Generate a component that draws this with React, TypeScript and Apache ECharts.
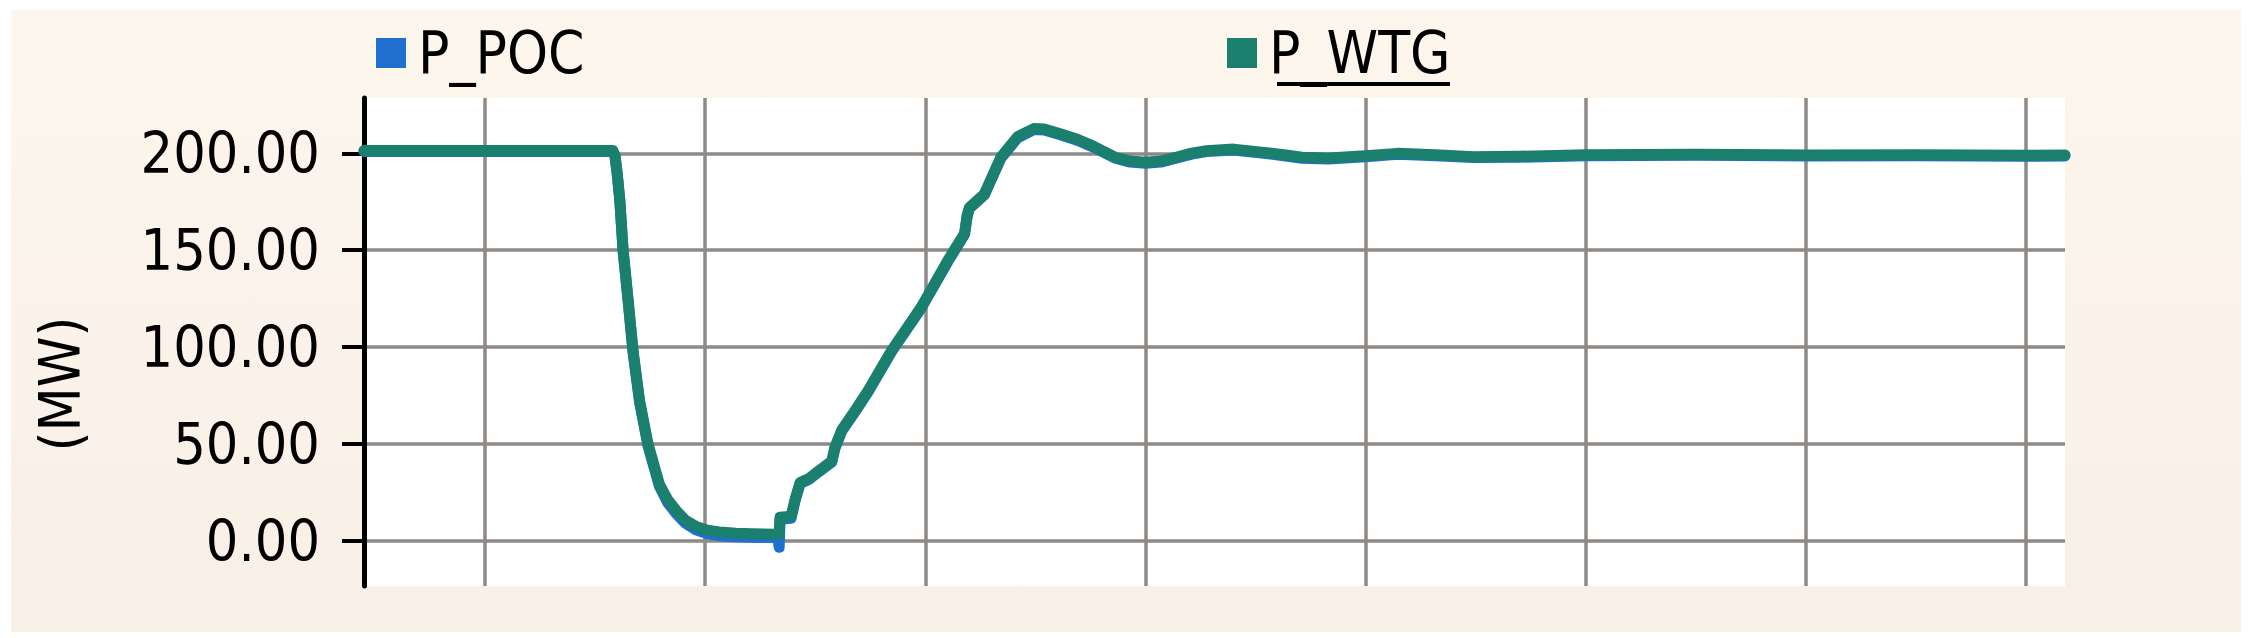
import React, { useEffect, useRef } from "react";
import * as echarts from "echarts";

// time axis (grid lines at whole units 1..8)
const time = [
  0.45, 1.0, 1.58, 1.59, 1.6, 1.612, 1.627, 1.65, 1.672, 1.702, 1.74, 1.792, 1.83, 1.868, 1.91, 1.958,
  2.01, 2.063, 2.14, 2.214, 2.33, 2.336, 2.34, 2.39, 2.408, 2.431, 2.471, 2.516, 2.575, 2.589, 2.62,
  2.68, 2.741, 2.846, 2.982, 3.103, 3.178, 3.19, 3.2, 3.268, 3.343, 3.419, 3.493, 3.54, 3.62, 3.69,
  3.758, 3.862, 3.93, 4.001, 4.07, 4.139, 4.21, 4.278, 4.399, 4.538, 4.62, 4.711, 4.832, 5.0, 5.144,
  5.317, 5.49, 5.7, 6.0, 6.5, 7.0, 7.5, 8.0, 8.177,
];

const pPoc = [
  201.0, 201.0, 201.0, 198.5, 189.5, 175.5, 149.5, 123.5, 97.5, 71.5, 49.0, 28.0, 19.5, 14.0, 9.0, 5.5,
  3.5, 2.5, 2.0, 1.7, 1.5, -3.5, 11.0, 11.5, 20.5, 29.5, 31.5, 35.5, 40.5, 47.5, 56.5,
  66.5, 77.0, 97.5, 120.2, 144.3, 158.1, 167.5, 171.5, 178.5, 197.5, 208.0, 212.3, 212.1, 209.4, 206.8,
  203.5, 197.5, 195.5, 194.9, 195.5, 197.5, 199.6, 200.9, 201.7, 200.0, 198.9, 197.5, 197.1, 198.3, 199.5,
  198.8, 197.8, 198.0, 198.8, 199.0, 198.7, 198.8, 198.5, 198.7,
];

const pWtg = [
  201.5, 201.5, 201.5, 199.0, 190.0, 176.0, 150.0, 124.0, 98.0, 72.0, 50.0, 29.0, 21.0, 15.5, 10.5, 7.2,
  5.3, 4.4, 3.8, 3.5, 3.2, 3.2, 12.0, 12.5, 21.0, 30.0, 32.0, 36.0, 41.0, 48.0, 57.0,
  67.0, 77.6, 98.0, 120.7, 144.8, 158.6, 168.0, 172.0, 179.0, 198.0, 208.6, 212.8, 212.6, 209.9, 207.3,
  204.0, 198.0, 196.0, 195.4, 196.0, 198.0, 200.1, 201.4, 202.2, 200.5, 199.4, 198.0, 197.6, 198.8, 200.0,
  199.3, 198.3, 198.5, 199.3, 199.5, 199.2, 199.3, 199.0, 199.2,
];

const seriesNames = ["P_POC", "P_WTG"];
const seriesColors = ["#1F6FD1", "#1A7F6D"];
const yTicks = [0, 50, 100, 150, 200];
const xGridTicks = [1, 2, 3, 4, 5, 6, 7, 8];
const yAxisName = "(MW)";

const FONT = "'DejaVu Sans Condensed', 'DejaVu Sans', sans-serif";

export default function App() {
  const ref = useRef<HTMLDivElement>(null);

  useEffect(() => {
    if (!ref.current) return;
    const chart = echarts.init(ref.current, undefined, { renderer: "svg" });

    const pocData = time.map((t, i) => [t, pPoc[i]]);
    const wtgData = time.map((t, i) => [t, pWtg[i]]);

    const legendCommon = {
      top: 24,
      padding: 0,
      icon: "rect",
      itemWidth: 30,
      itemHeight: 30,
      itemGap: 0,
      selectedMode: false,
      textStyle: { fontSize: 58, color: "#000", fontFamily: FONT, padding: [0, 0, 0, 7] },
    };

    chart.setOption({
      animation: false,
      backgroundColor: "#ffffff",
      graphic: [
        {
          type: "rect",
          z: -100,
          silent: true,
          shape: { x: 11, y: 10, width: 2230, height: 622 },
          style: {
            fill: new echarts.graphic.LinearGradient(0, 0, 0, 1, [
              { offset: 0, color: "#FDF6EC" },
              { offset: 1, color: "#F8F0E7" },
            ]),
          },
        },
        {
          type: "text",
          x: 60,
          y: 384,
          rotation: Math.PI / 2,
          style: {
            text: yAxisName,
            fontSize: 57,
            fontFamily: FONT,
            fill: "#000",
            align: "center",
            verticalAlign: "middle",
          },
        },
        {
          type: "line",
          shape: { x1: 1277, y1: 84, x2: 1450, y2: 84 },
          style: { stroke: "#000", lineWidth: 4 },
        },
      ],
      legend: [
        { ...legendCommon, left: 376, data: [seriesNames[0]] },
        { ...legendCommon, left: 1227, data: [seriesNames[1]] },
      ],
      grid: {
        left: 364,
        right: 185,
        top: 98,
        bottom: 52,
        show: true,
        backgroundColor: "#ffffff",
        borderWidth: 0,
        containLabel: false,
      },
      xAxis: {
        type: "value",
        min: 0.45,
        max: 8.177,
        axisLine: { show: false },
        axisTick: { show: false, customValues: xGridTicks },
        axisLabel: { show: false, customValues: xGridTicks },
        splitLine: { show: true, lineStyle: { color: "#8E8A87", width: 3.5 } },
      },
      yAxis: {
        type: "value",
        min: -23.5,
        max: 228.6,
        axisLine: { show: true, onZero: false, lineStyle: { color: "#000", width: 5 } },
        axisTick: {
          show: true,
          inside: false,
          length: 22,
          customValues: yTicks,
          lineStyle: { color: "#000", width: 4 },
        },
        axisLabel: {
          show: true,
          customValues: yTicks,
          margin: 44,
          fontSize: 57,
          color: "#000",
          fontFamily: FONT,
          formatter: (v: number) => v.toFixed(2),
        },
        splitLine: { show: true, lineStyle: { color: "#8E8A87", width: 3.5 } },
      },
      series: [
        {
          name: seriesNames[0],
          type: "line",
          data: pocData,
          showSymbol: false,
          color: seriesColors[0],
          lineStyle: { width: 11, color: seriesColors[0], cap: "round", join: "round" },
          z: 2,
        },
        {
          name: seriesNames[1],
          type: "line",
          data: wtgData,
          showSymbol: false,
          color: seriesColors[1],
          lineStyle: { width: 11, color: seriesColors[1], cap: "round", join: "round" },
          z: 3,
        },
      ],
    });

    return () => chart.dispose();
  }, []);

  return (
    <div style={{ position: "absolute", left: 0, top: 0, width: 2250, height: 638, background: "#fff" }}>
      <div ref={ref} style={{ width: 2250, height: 638 }} />
    </div>
  );
}
